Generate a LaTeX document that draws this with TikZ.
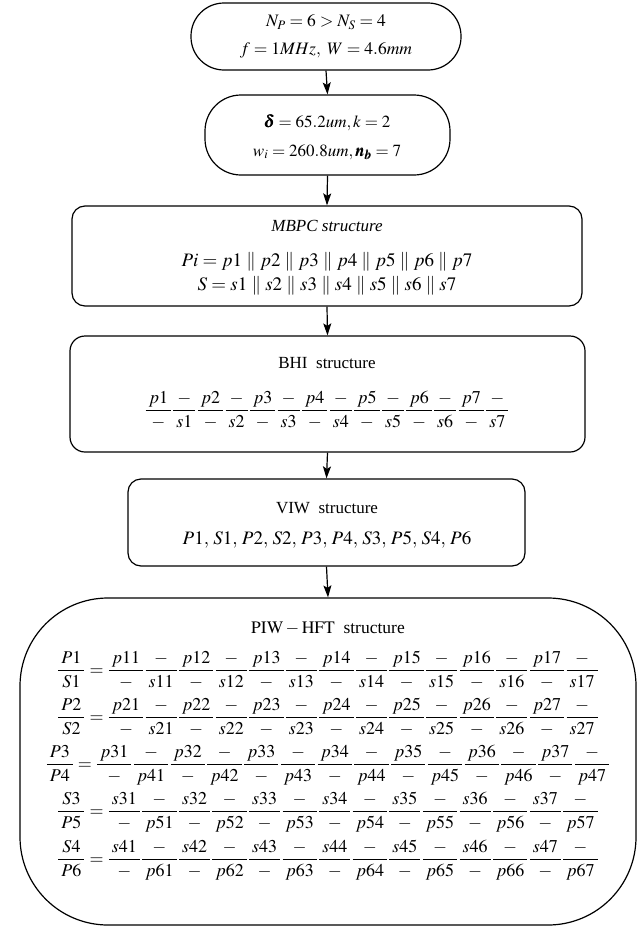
\documentclass[tikz,border=0pt]{standalone}
\usepackage{amsmath}
\usepackage{mathptmx}
\usepackage{bm}
\usepackage[no-math]{fontspec}
\setmainfont{Liberation Serif}
\usetikzlibrary{arrows.meta}
\newcommand\pd[1]{\mkern3mu#1\mkern3mu}
\newcommand\pr[2]{\dfrac{\pd{#1}}{\pd{-}}\dfrac{\pd{-}}{\pd{#2}}}
\newcommand\hd[2]{\dfrac{\pd{#1}}{\pd{#2}}}
\begin{document}
\begin{tikzpicture}[x=1pt,y=-1pt,
  box/.style={draw,line width=1.2pt,rounded corners=#1,inner sep=0pt},
  txt/.style={inner sep=0pt,font=\fontsize{#1}{20}\selectfont},
  txt/.default=17,
  arr/.style={line width=1.2pt,-{Stealth[length=12pt,width=8pt,inset=2.5pt]}}]
\useasboundingbox (0,0) rectangle (642,929);
% boxes
\node[box=33pt,minimum width=270pt,minimum height=67pt] (b1) at (326,36.5) {};
\node[box=36pt,minimum width=245pt,minimum height=80pt] (b2) at (327.5,135) {};
\node[box=13pt,minimum width=510pt,minimum height=100pt] (b3) at (327,256) {};
\node[box=15pt,minimum width=515pt,minimum height=116pt] (b4) at (327.5,394) {};
\node[box=13pt,minimum width=397pt,minimum height=87pt] (b5) at (326.5,522.5) {};
\node[box=88pt,minimum width=616pt,minimum height=327pt] (b6) at (328,761.5) {};
% texts
\node[txt=17.5] (t1a) at (326,22) {$N_P=6>N_S=4$};
\node[txt=17.5] (t1b) at (326,50) {$f=1MHz,\ W=4.6mm$};
\node[txt=17] (t2a) at (327,123) {$\bm{\delta}=65.2um,k=2$};
\node[txt=17] (t2b) at (327,152) {$w_i=260.8um,\bm{n_b}=7$};
\node[txt=17] (t3a) at (327,226) {\itshape MBPC structure};
\node[txt=19] (t3b) at (327,262) {$Pi=p1\parallel p2\parallel p3\parallel p4\parallel p5\parallel p6\parallel p7$};
\node[txt=19] (t3c) at (327,286) {$S=s1\parallel s2\parallel s3\parallel s4\parallel s5\parallel s6\parallel s7$};
\node[txt=17] (t4a) at (327,363) {BHI\ \ structure};
\node[txt=18] (t4b) at (327,410) {$\displaystyle \pr{p1}{s1}\pr{p2}{s2}\pr{p3}{s3}\pr{p4}{s4}\pr{p5}{s5}\pr{p6}{s6}\pr{p7}{s7}$};
\node[txt=17] (t5a) at (327,508) {VIW\ \ structure};
\node[txt=19] (t5b) at (327,540) {$P1,\mkern2mu S1,\mkern2mu P2,\mkern2mu S2,\mkern2mu P3,\mkern2mu P4,\mkern2mu S3,\mkern2mu P5,\mkern2mu S4,\mkern2mu P6$};
\node[txt=17.5] (t6a) at (328,628) {$\mathrm{PIW}-\mathrm{HFT}$\ \ structure};
\node[txt=18] (r1) at (328,670) {$\displaystyle \hd{P1}{S1}=\pr{p11}{s11}\pr{p12}{s12}\pr{p13}{s13}\pr{p14}{s14}\pr{p15}{s15}\pr{p16}{s16}\pr{p17}{s17}$};
\node[txt=18] (r2) at (328,717) {$\displaystyle \hd{P2}{S2}=\pr{p21}{s21}\pr{p22}{s22}\pr{p23}{s23}\pr{p24}{s24}\pr{p25}{s25}\pr{p26}{s26}\pr{p27}{s27}$};
\node[txt=18] (r3) at (328,765) {$\displaystyle \hd{P3}{P4}=\pr{p31}{p41}\pr{p32}{p42}\pr{p33}{p43}\pr{p34}{p44}\pr{p35}{p45}\pr{p36}{p46}\pr{p37}{p47}$};
\node[txt=18] (r4) at (328,812) {$\displaystyle \hd{S3}{P5}=\pr{s31}{p51}\pr{s32}{p52}\pr{s33}{p53}\pr{s34}{p54}\pr{s35}{p55}\pr{s36}{p56}\pr{s37}{p57}$};
\node[txt=18] (r5) at (328,860) {$\displaystyle \hd{S4}{P6}=\pr{s41}{p61}\pr{s42}{p62}\pr{s43}{p63}\pr{s44}{p64}\pr{s45}{p65}\pr{s46}{p66}\pr{s47}{p67}$};
% arrows
\draw[arr] (b1.south) -- (b2.north);
\draw[arr] (b2.south) -- (b3.north);
\draw[arr] (b3.south) -- (b4.north);
\draw[arr] (b4.south) -- (b5.north);
\draw[arr] (b5.south) -- (b6.north);
\end{tikzpicture}
\end{document}
